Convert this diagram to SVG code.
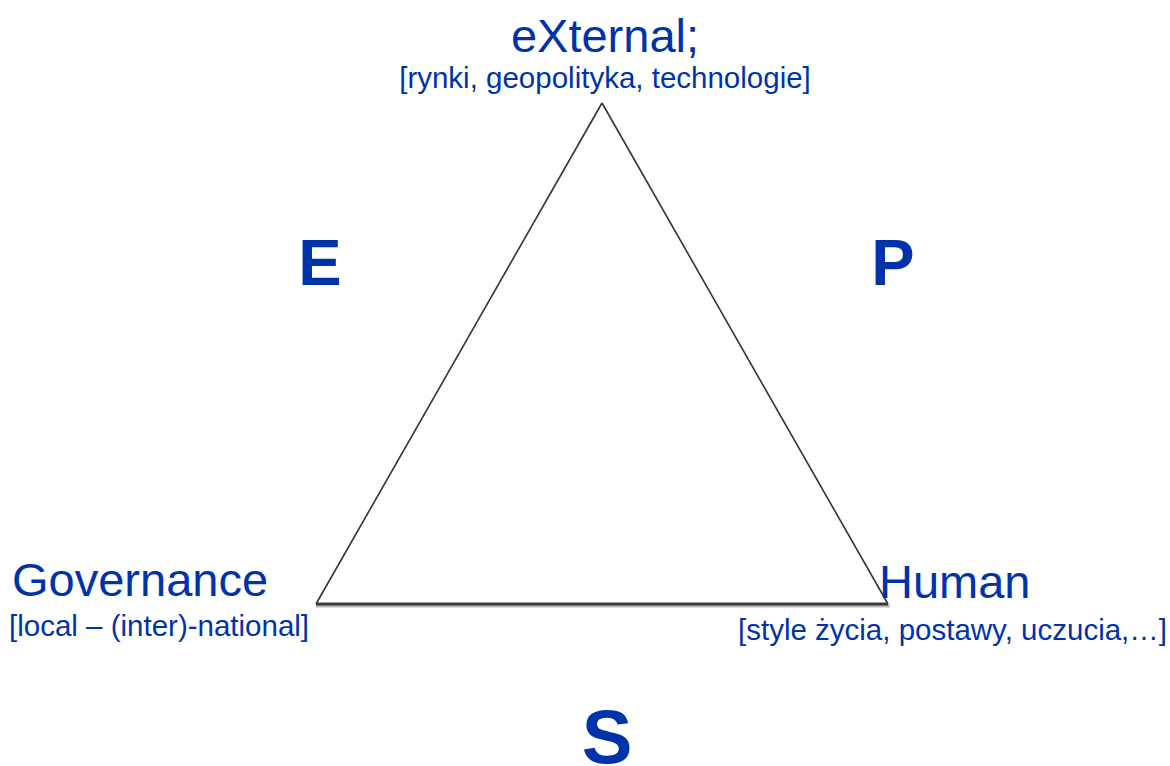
<svg xmlns="http://www.w3.org/2000/svg" width="1170" height="766" viewBox="0 0 1170 766">
<style>
text{font-family:"Liberation Sans",Arial,sans-serif;fill:#0033aa}
.big{font-size:47px}
.small{font-size:29.5px}
.letter{font-size:65px;font-weight:bold}
.side{stroke:#333;stroke-width:1.6;fill:none}
</style>
<rect width="1170" height="766" fill="#fff"/>
<g id="connectors">
<line class="side" x1="602" y1="103" x2="316" y2="604"/>
<line class="side" x1="602" y1="103" x2="888" y2="604"/>
<line x1="316" y1="606" x2="890" y2="606" stroke="#bbb" stroke-width="3"/>
<line x1="316" y1="604" x2="888" y2="604" stroke="#3a3a3a" stroke-width="3"/>
</g>
<g id="node-external">
<text class="big" x="605" y="52" text-anchor="middle" font-size="48">eXternal;</text>
<text class="small" x="605" y="88" text-anchor="middle">[rynki, geopolityka, technologie]</text>
</g>
<g id="node-governance">
<text class="big" x="12" y="596">Governance</text>
<text class="small" x="9" y="636">[local – (inter)-national]</text>
</g>
<g id="node-human">
<text class="big" x="879" y="598">Human</text>
<text class="small" x="1167" y="640" text-anchor="end">[style życia, postawy, uczucia,…]</text>
</g>
<g id="label-E"><text class="letter" x="320" y="285" text-anchor="middle">E</text></g>
<g id="label-P"><text class="letter" x="893" y="285" text-anchor="middle">P</text></g>
<g id="label-S"><text class="letter" x="607" y="763" text-anchor="middle" style="font-size:76px">S</text></g>
</svg>
